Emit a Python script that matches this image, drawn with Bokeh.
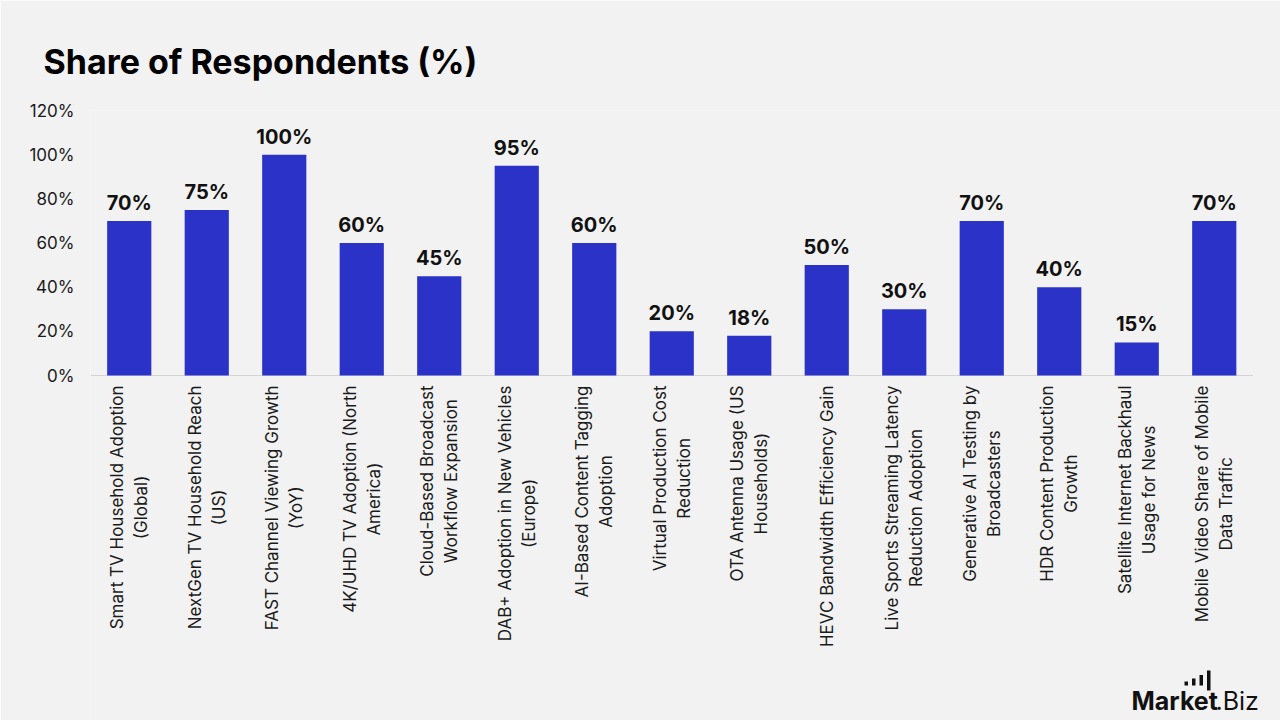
from bokeh.plotting import figure
from bokeh.models import Range1d, FixedTicker, PrintfTickFormatter, Label, ColumnDataSource, BoxAnnotation
from bokeh.core.properties import value
from bokeh.embed import file_html
from bokeh.resources import INLINE
import math

categories = [
    "Smart TV Household Adoption\n(Global)",
    "NextGen TV Household Reach\n(US)",
    "FAST Channel Viewing Growth\n(YoY)",
    "4K/UHD TV Adoption (North\nAmerica)",
    "Cloud-Based Broadcast\nWorkflow Expansion",
    "DAB+ Adoption in New Vehicles\n(Europe)",
    "AI-Based Content Tagging\nAdoption",
    "Virtual Production Cost\nReduction",
    "OTA Antenna Usage (US\nHouseholds)",
    "HEVC Bandwidth Efficiency Gain",
    "Live Sports Streaming Latency\nReduction Adoption",
    "Generative AI Testing by\nBroadcasters",
    "HDR Content Production\nGrowth",
    "Satellite Internet Backhaul\nUsage for News",
    "Mobile Video Share of Mobile\nData Traffic",
]
shares = [70, 75, 100, 60, 45, 95, 60, 20, 18, 50, 30, 70, 40, 15, 70]
y_ticks = [0, 20, 40, 60, 80, 100, 120]

FONT = "Inter"
BG = "#f2f2f2"
BAR = "#2b32c8"
TEXT = "#1a1a1a"

n = len(categories)
source = ColumnDataSource(dict(
    pos=list(range(n)),
    cat=categories,
    share=shares,
    label=[f"{v}%" for v in shares],
    zero=[0] * n,
))

# The plotting frame runs to the right and bottom edges of the canvas so the
# rotated category names and the brand mark can be drawn inside it.
px_per_unit = 265 / 120.0
y_min = -(720 - 375) / px_per_unit
x_max = -0.5 + (1280 - 90) / 77.5

p = figure(
    width=1280, height=720,
    x_range=Range1d(-0.5, x_max),
    y_range=Range1d(y_min, 120),
    output_backend="svg", toolbar_location=None,
    background_fill_color=BG, border_fill_color=BG,
    min_border_left=90, min_border_right=0,
    min_border_top=110, min_border_bottom=0,
    outline_line_color=None,
)

# baseline under the bars
p.segment(x0=[-0.5], x1=[n - 0.5], y0=[0], y1=[0], line_color="#d4d4d4", line_width=1)

p.vbar(x="pos", top="share", width=0.57, source=source,
       fill_color=BAR, line_color=None)

p.text(x="pos", y="share", text="label", source=source,
       text_align="center", text_baseline="bottom", y_offset=-6,
       text_font=value(FONT), text_font_style="bold",
       text_font_size="20px", text_color="#111111")

# rotated category names hanging below the baseline
p.text(x="pos", y="zero", text="cat", source=source,
       angle=math.pi / 2, anchor="center_right", text_align="center",
       y_offset=10, text_font=value(FONT), text_font_size="17px",
       text_line_height=1.2, text_color=TEXT)

# title
p.title.text = "Share of Respondents (%)"
p.title.text_font = FONT
p.title.text_font_size = "34px"
p.title.text_font_style = "bold"
p.title.text_color = "#000000"
p.title.align = "left"
p.title.offset = -47
p.title.standoff = 58

# axes
p.xaxis.visible = False
p.xgrid.visible = False
p.ygrid.visible = False

p.yaxis.ticker = FixedTicker(ticks=y_ticks)
p.yaxis.formatter = PrintfTickFormatter(format="%d%%")
p.yaxis.axis_line_color = None
p.yaxis.major_tick_line_color = None
p.yaxis.minor_tick_line_color = None
p.yaxis.major_label_text_font = FONT
p.yaxis.major_label_text_font_size = "17px"
p.yaxis.major_label_text_color = TEXT
p.yaxis.major_label_standoff = 10

# brand mark: word mark plus the small rising bars over "ket"
p.add_layout(Label(x=1041, y=20, x_units="screen", y_units="screen",
                   text="Market", text_font=FONT, text_font_style="bold",
                   text_font_size="25px", text_color="#111111",
                   text_baseline="alphabetic"))
p.add_layout(Label(x=1125, y=20, x_units="screen", y_units="screen",
                   text=".Biz", text_font=FONT,
                   text_font_size="25px", text_color="#111111",
                   text_baseline="alphabetic"))
for left, top, bottom in [(1094, 39, 35), (1101.5, 42, 35), (1109, 45.5, 35), (1116.5, 50, 30)]:
    p.add_layout(BoxAnnotation(left=left, right=left + 3.5, top=top, bottom=bottom,
                               left_units="screen", right_units="screen",
                               top_units="screen", bottom_units="screen",
                               fill_color="#111111", fill_alpha=1.0, line_color=None))

open("out.html", "w").write(file_html(p, INLINE))
